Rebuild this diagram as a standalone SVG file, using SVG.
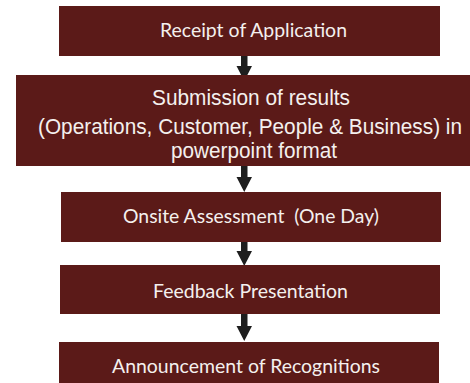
<svg xmlns="http://www.w3.org/2000/svg" width="470" height="383" viewBox="0 0 470 383">
<style>
.box{fill:#5B1A18}
.t{fill:#F4F0EE;font-family:Lato,"Open Sans",sans-serif;font-size:20px;text-anchor:middle}
.a{fill:#F4F0EE;font-family:"Liberation Sans",Arial,sans-serif;font-size:22px;text-anchor:middle}
.arr{fill:#1E1E1E}
</style>
<rect width="470" height="383" fill="#FFFFFF"/>
<g id="connectors">
<path class="arr" d="M241 56H247.5V66H252L244.25 81L236.5 66H241Z"/>
<path class="arr" d="M241 166H247.5V177H252L244.25 192L236.5 177H241Z"/>
<path class="arr" d="M241 241H247.5V251H252L244.25 266L236.5 251H241Z"/>
<path class="arr" d="M241 314H247.5V326H252L244.25 341L236.5 326H241Z"/>
</g>
<g id="n1">
<rect class="box" x="59" y="6" width="381" height="50"/>
<text class="t" x="253.5" y="37" textLength="187" lengthAdjust="spacingAndGlyphs">Receipt of Application</text>
</g>
<g id="n2">
<rect class="box" x="16" y="75" width="454" height="91"/>
<text class="a" x="251" y="104.5" textLength="198" lengthAdjust="spacingAndGlyphs">Submission of results</text>
<text class="a" x="250" y="134" textLength="424" lengthAdjust="spacingAndGlyphs">(Operations, Customer, People &amp; Business) in</text>
<text class="a" x="254" y="158" textLength="166" lengthAdjust="spacingAndGlyphs">powerpoint format</text>
</g>
<g id="n3">
<rect class="box" x="61" y="192" width="380" height="50"/>
<text class="t" x="251" y="223" textLength="256" lengthAdjust="spacingAndGlyphs" xml:space="preserve">Onsite Assessment  (One Day)</text>
</g>
<g id="n4">
<rect class="box" x="60" y="265" width="380" height="49"/>
<text class="t" x="250.5" y="297.5" textLength="195" lengthAdjust="spacingAndGlyphs">Feedback Presentation</text>
</g>
<g id="n5">
<rect class="box" x="59" y="342" width="380" height="41"/>
<text class="t" x="246" y="373" textLength="268" lengthAdjust="spacingAndGlyphs">Announcement of Recognitions</text>
</g>
</svg>
